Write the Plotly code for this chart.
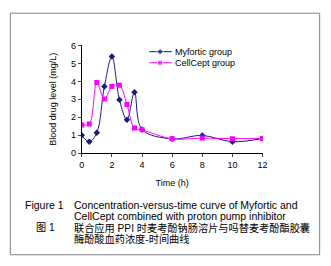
import plotly.graph_objects as go

time_h = [0, 0.5, 1, 1.5, 2, 2.5, 3, 3.5, 4, 6, 8, 10, 12]
myfortic = [1.0, 0.64, 1.14, 3.72, 5.38, 2.98, 1.86, 3.39, 1.32, 0.8, 0.99, 0.64, 0.82]
cellcept = [1.57, 1.63, 3.93, 3.02, 3.71, 3.78, 2.71, 1.40, 1.30, 0.80, 0.84, 0.81, 0.82]
series_names = ["Myfortic group", "CellCept group"]
x_ticks = [0, 2, 4, 6, 8, 10, 12]
y_ticks = [0, 1, 2, 3, 4, 5, 6]

W, H = 331, 266
FONT = "Liberation Sans, Arial, sans-serif"
CJK = "Liberation Sans, Noto Sans CJK SC"
NAVY = "#1a1a80"
PINK = "#ff00ff"

def px(x):
    return x / W

def py(y):
    return 1 - y / H

fig = go.Figure()
fig.add_trace(go.Scatter(
    x=time_h, y=myfortic, name=series_names[0], mode="lines+markers",
    line=dict(color=NAVY, width=1, shape="spline", smoothing=1.0),
    marker=dict(symbol="diamond", size=5, color=NAVY),
    showlegend=False,
))
fig.add_trace(go.Scatter(
    x=time_h, y=cellcept, name=series_names[1], mode="lines+markers",
    line=dict(color=PINK, width=1, shape="spline", smoothing=1.0),
    marker=dict(symbol="square", size=5, color=PINK),
    showlegend=False,
))

# legend samples drawn on a hidden pixel-space overlay axis
legend_rows = [(48.5, NAVY, "diamond", series_names[0]),
               (60.0, PINK, "square", series_names[1])]
for yy, col, sym, name in legend_rows:
    fig.add_trace(go.Scatter(
        x=[150, 161, 173], y=[yy, yy, yy], xaxis="x2", yaxis="y2",
        mode="lines+markers", line=dict(color=col, width=1),
        marker=dict(symbol=sym, size=[0, 5, 0], color=col),
        showlegend=False, hoverinfo="skip", cliponaxis=False,
    ))
    fig.add_annotation(x=174, y=yy, xref="x2", yref="y2", xanchor="left",
                       yanchor="middle", showarrow=False, text=name,
                       font=dict(family=FONT, size=9, color="black"))

fig.update_layout(
    width=W, height=H,
    margin=dict(l=0, r=0, t=0, b=0),
    paper_bgcolor="white", plot_bgcolor="rgba(0,0,0,0)",
    font=dict(family=FONT, size=9, color="black"),
    showlegend=False,
    xaxis=dict(domain=[px(80.7), px(266)], range=[0, 12],
               tickvals=x_ticks, ticks="outside", ticklen=3, tickwidth=1,
               showline=True, linecolor="black", linewidth=1,
               showgrid=False, zeroline=False,
               tickfont=dict(size=9),
               title=dict(text="Time (h)", font=dict(size=9), standoff=10)),
    yaxis=dict(domain=[py(154), py(42)], range=[0, 6],
               tickvals=y_ticks, ticks="outside", ticklen=3, tickwidth=1,
               showline=True, linecolor="black", linewidth=1,
               showgrid=False, zeroline=False,
               tickfont=dict(size=9),
               title=dict(text="Blood drug level (mg/L)", font=dict(size=9), standoff=12)),
    xaxis2=dict(domain=[0, 1], range=[0, W], visible=False, anchor="y2"),
    yaxis2=dict(domain=[0, 1], range=[H, 0], visible=False, anchor="x2"),
)

fig.add_shape(type="rect", xref="paper", yref="paper",
              x0=px(7.5), x1=px(324.5), y0=py(259.5), y1=py(8.5),
              line=dict(color="#808080", width=1))

caps = [
    (22, 207.4, "Figure 1", FONT, 10.5),
    (72, 207.4, "Concentration-versus-time curve of Myfortic and", FONT, 10.5),
    (72, 219.5, "CellCept combined with proton pump inhibitor", FONT, 10.5),
    (33, 231.3, "图 1", CJK, 10.2),
    (72, 231.3, "联合应用 PPI 时麦考酚钠肠溶片与吗替麦考酚酯胶囊", CJK, 10.2),
    (72, 242.8, "酶酚酸血药浓度-时间曲线", CJK, 10.2),
]
for x, y, t, f, s in caps:
    fig.add_annotation(x=px(x), y=py(y), xref="paper", yref="paper",
                       xanchor="left", yanchor="middle", showarrow=False,
                       borderpad=0,
                       text=t, font=dict(family=f, size=s, color="black"))

fig.write_html("out.html", config={"displayModeBar": False},
               post_script="document.body.style.margin='0';document.body.style.overflow='hidden';")
